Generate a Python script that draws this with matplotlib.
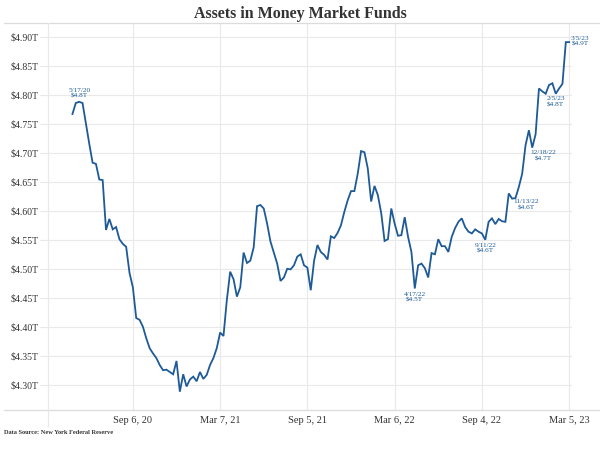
"""Assets in Money Market Funds, weekly, May 2020 - Mar 2023."""

import matplotlib

matplotlib.use("Agg")
import matplotlib.pyplot as plt
import pandas as pd
from matplotlib.lines import Line2D

# weekly (Sunday) readings, trillions of dollars
start, end = "2020-05-03", "2023-03-05"
assets = [
    4.768, 4.787, 4.789, 4.787, 4.752, 4.717, 4.684, 4.682, 4.655, 4.654,
    4.568, 4.587, 4.569, 4.573, 4.552, 4.544, 4.539, 4.494, 4.469, 4.416,
    4.413, 4.401, 4.381, 4.364, 4.355, 4.347, 4.335, 4.326, 4.327, 4.323,
    4.319, 4.342, 4.289, 4.319, 4.298, 4.310, 4.315, 4.307, 4.323, 4.311,
    4.318, 4.335, 4.347, 4.364, 4.391, 4.385, 4.447, 4.496, 4.483, 4.453,
    4.469, 4.529, 4.511, 4.515, 4.538, 4.609, 4.611, 4.605, 4.579, 4.548,
    4.529, 4.510, 4.480, 4.486, 4.501, 4.500, 4.507, 4.522, 4.526, 4.507,
    4.503, 4.464, 4.515, 4.542, 4.530, 4.525, 4.517, 4.557, 4.554, 4.563,
    4.576, 4.599, 4.619, 4.635, 4.635, 4.665, 4.704, 4.702, 4.674, 4.617,
    4.644, 4.628, 4.597, 4.549, 4.552, 4.605, 4.579, 4.558, 4.559, 4.590,
    4.556, 4.530, 4.467, 4.507, 4.510, 4.502, 4.486, 4.528, 4.526, 4.552,
    4.540, 4.540, 4.530, 4.556, 4.571, 4.582, 4.588, 4.573, 4.565, 4.562,
    4.569, 4.565, 4.562, 4.551, 4.582, 4.588, 4.578, 4.587, 4.583, 4.582,
    4.631, 4.622, 4.623, 4.642, 4.665, 4.714, 4.740, 4.710, 4.733, 4.812,
    4.807, 4.803, 4.818, 4.821, 4.803, 4.812, 4.820, 4.892, 4.892,
]

ann_dates = ["2020-05-17", "2022-04-17", "2022-09-11", "2022-11-13",
             "2022-12-18", "2023-02-05", "2023-03-05"]

x_ticks = ["2020-09-06", "2021-03-07", "2021-09-05", "2022-03-06",
           "2022-09-04", "2023-03-05"]
x_labels = ["Sep 6, 20", "Mar 7, 21", "Sep 5, 21", "Mar 6, 22",
            "Sep 4, 22", "Mar 5, 23"]
y_ticks = [4.30, 4.35, 4.40, 4.45, 4.50, 4.55, 4.60, 4.65, 4.70, 4.75, 4.80, 4.85, 4.90]

BLUE = "#1d5a97"
GRID = "#e9e9e9"
TEXT = "#333333"
SERIF = ["Liberation Serif", "DejaVu Serif"]

plt.rcParams["font.family"] = SERIF

dates = pd.date_range(start, end, freq="W-SUN")
s = pd.Series(assets, index=dates)

AX_L, AX_B, AX_W, AX_H = 0.0792, 0.0889, 0.8742, 0.86
fig = plt.figure(figsize=(6, 4.5), dpi=100)
ax = fig.add_axes([AX_L, AX_B, AX_W, AX_H])

ax.plot(s.index, s.values, color=BLUE, lw=1.3, solid_joinstyle="miter", zorder=3)

ax.set_xlim(pd.Timestamp("2020-03-12"), pd.Timestamp("2023-03-11"))
ax.set_ylim(4.2574, 4.925)

ax.set_xticks(pd.to_datetime(x_ticks))
ax.set_xticklabels(x_labels)
ax.set_yticks(y_ticks)
ax.set_yticklabels([f"${v:.2f}T" for v in y_ticks])
ax.tick_params(axis="y", length=6, width=0.8, color=GRID, pad=0.5, labelsize=7, labelcolor=TEXT)
ax.tick_params(axis="x", length=0, pad=4, labelsize=7.5, labelcolor=TEXT)
ax.grid(True, color=GRID, lw=0.8, zorder=0)
for sp in ax.spines.values():
    sp.set_visible(False)

# point labels: (dx, dy) in points, alignment
offsets = {
    "2020-05-17": ((0, 2.5), "center", "bottom"),
    "2022-04-17": ((0, -2.5), "center", "top"),
    "2022-09-11": ((0, -2), "center", "top"),
    "2022-11-13": ((8, -1), "center", "top"),
    "2022-12-18": ((8, -2), "center", "top"),
    "2023-02-05": ((0, -2), "center", "top"),
    "2023-03-05": ((8, 0.5), "center", "center"),
}
for d in ann_dates:
    t = pd.Timestamp(d)
    v = s[t]
    (dx, dy), ha, va = offsets[d]
    ax.annotate(f"{t.month}/{t.day}/{t:%y}\n${v:.1f}T", xy=(t, v), xytext=(dx, dy),
                textcoords="offset points", ha=ha, va=va, fontsize=5.2,
                color=BLUE, linespacing=1.2, annotation_clip=False, zorder=4)

# frame lines across the figure and the extended left rule
top = AX_B + AX_H
for yy in (top, AX_B):
    fig.add_artist(Line2D([0.007, 1.0], [yy, yy], color="#dcdcdc", lw=0.9))
fig.add_artist(Line2D([AX_L, AX_L], [0.053, top], color=GRID, lw=0.9))

fig.text(0.5, 0.968, "Assets in Money Market Funds", ha="center", va="center",
         fontsize=11.5, fontweight="bold", color=TEXT)
fig.text(0.007, 0.038, "Data Source: New York Federal Reserve", ha="left", va="center",
         fontsize=4.6, fontweight="bold", color=TEXT)

fig.savefig("out.png", dpi=100)
